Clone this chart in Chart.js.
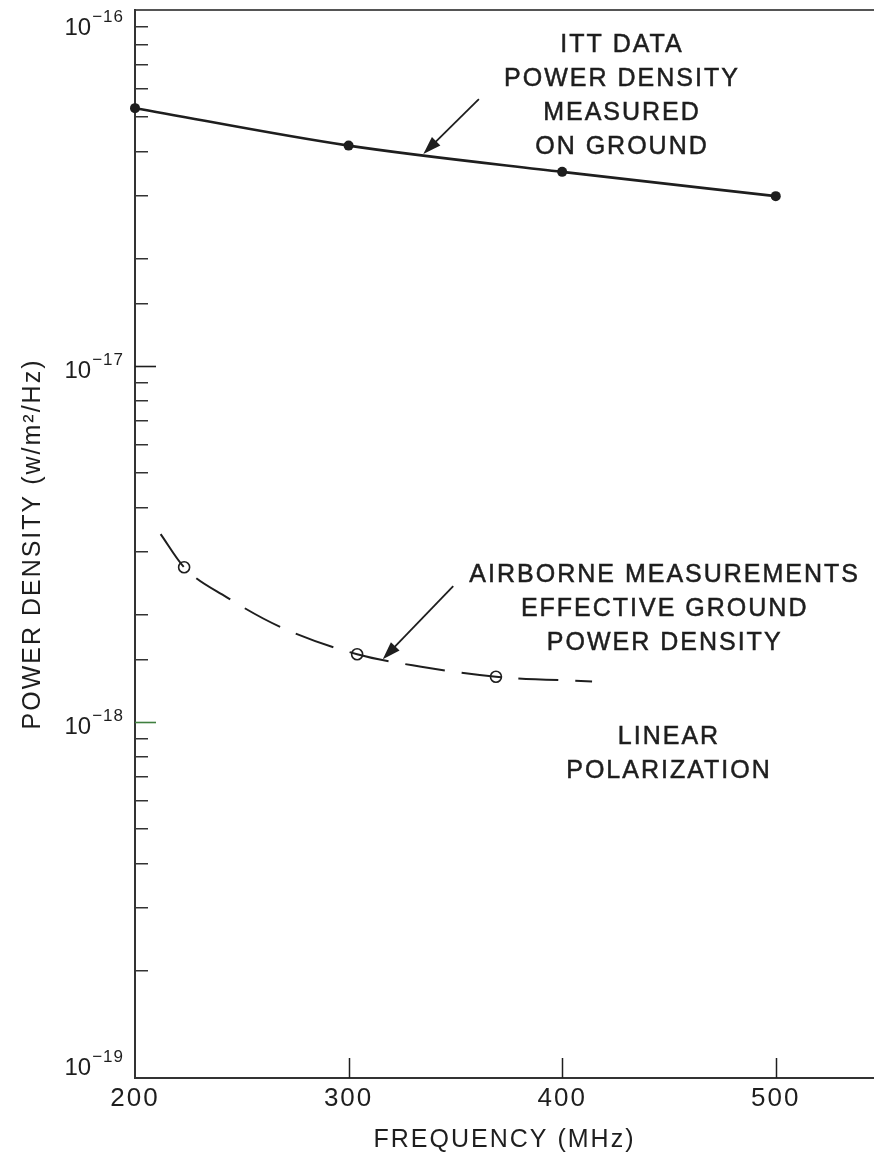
<!DOCTYPE html>
<html lang="en">
  <head>
    <meta charset="UTF-8" />
    <title>Power density vs frequency</title>
    <style>
      html, body { margin: 0; padding: 0; background: #fff; overflow: hidden; }
      #wrap { width: 874px; height: 1159px; }
      canvas { display: block; }
    </style>
  </head>
  <body>
    <div id="wrap"><canvas id="myChart" width="874" height="1159"></canvas></div>

    <script src="https://cdn.jsdelivr.net/npm/chart.js"></script>
    <script>
      // values
      const ittFreq = [200, 300, 400, 500];
      const ittDensity = [5.3e-17, 4.16e-17, 3.51e-17, 3.0e-17];

      const airFreq = [223, 304, 369];
      const airDensity = [2.72e-18, 1.55e-18, 1.34e-18];

      // the dashed fitted curve through the airborne points
      const airCurveFreq = [212, 223, 243, 268, 304, 334, 369, 414];
      const airCurveDensity = [3.37e-18, 2.72e-18, 2.24e-18, 1.85e-18, 1.55e-18, 1.43e-18, 1.34e-18, 1.3e-18];

      const xTicks = [200, 300, 400, 500];
      const yDecades = [-16, -17, -18, -19];

      const ittText = ["ITT DATA", "POWER DENSITY", "MEASURED", "ON GROUND"];
      const airText = ["AIRBORNE MEASUREMENTS", "EFFECTIVE GROUND", "POWER DENSITY"];
      const polText = ["LINEAR", "POLARIZATION"];

      const ink = "#1e1e1e";
      const FONT = "'Liberation Sans', Arial, sans-serif";
      Chart.defaults.font.family = FONT;
      Chart.defaults.color = ink;

      const pts = (xs, ys) => xs.map((x, i) => ({ x: x, y: ys[i] }));
      const isDecade = (v) => Math.abs(Math.log10(v) - Math.round(Math.log10(v))) < 1e-6;

      // notes and arrows, anchored in data coordinates
      const notes = [
        { lines: ittText, x: 428, y: 7.97e-17 },
        { lines: airText, x: 448, y: 2.59e-18 },
        { lines: polText, x: 450, y: 9.08e-19 },
      ];
      const arrows = [
        { from: [361, 5.62e-17], to: [335, 3.94e-17] },
        { from: [349, 2.41e-18], to: [316, 1.5e-18] },
      ];

      function drawArrow(ctx, x1, y1, x2, y2) {
        const a = Math.atan2(y2 - y1, x2 - x1);
        const len = 18, half = 6;
        ctx.beginPath();
        ctx.moveTo(x1, y1);
        ctx.lineTo(x2 - Math.cos(a) * len * 0.8, y2 - Math.sin(a) * len * 0.8);
        ctx.stroke();
        ctx.beginPath();
        ctx.moveTo(x2, y2);
        ctx.lineTo(x2 - Math.cos(a) * len - Math.sin(a) * half, y2 - Math.sin(a) * len + Math.cos(a) * half);
        ctx.lineTo(x2 - Math.cos(a) * len + Math.sin(a) * half, y2 - Math.sin(a) * len - Math.cos(a) * half);
        ctx.closePath();
        ctx.fill();
      }

      const spacing = {
        id: "spacing",
        beforeDraw(chart) {
          chart.ctx.letterSpacing = "2px";
        },
      };

      const extras = {
        id: "extras",
        afterDraw(chart) {
          const { ctx, scales, chartArea } = chart;
          const xs = scales.x, ys = scales.y;
          ctx.save();
          ctx.fillStyle = ink;
          ctx.strokeStyle = ink;

          // inward marks on the frequency axis
          ctx.lineWidth = 1.5;
          xTicks.forEach((v) => {
            if (v === xs.min) return;
            const px = Math.round(xs.getPixelForValue(v)) + 0.5;
            ctx.beginPath();
            ctx.moveTo(px, chartArea.bottom);
            ctx.lineTo(px, chartArea.bottom - 20);
            ctx.stroke();
          });

          // longer marks on the decades
          ctx.lineWidth = 1.6;
          yDecades.forEach((e) => {
            const py = Math.round(ys.getPixelForValue(Math.pow(10, e))) + 0.5;
            if (e === -16 || e === -19) return;
            ctx.strokeStyle = e === -18 ? "#3f7f3f" : ink;
            ctx.beginPath();
            ctx.moveTo(chartArea.left, py);
            ctx.lineTo(chartArea.left + 21, py);
            ctx.stroke();
          });
          ctx.strokeStyle = ink;

          // 10^n labels
          ctx.textAlign = "right";
          ctx.textBaseline = "alphabetic";
          const right = chartArea.left - 11;
          yDecades.forEach((e) => {
            const py = ys.getPixelForValue(Math.pow(10, e));
            const cy = Math.min(Math.max(py + 3, chartArea.top + 16), chartArea.bottom - 12);
            const exp = "\u2212" + String(-e);
            ctx.letterSpacing = "1px";
            ctx.font = "17px " + FONT;
            ctx.fillText(exp, right, cy - 4);
            const w = ctx.measureText(exp).width;
            ctx.letterSpacing = "0px";
            ctx.font = "24px " + FONT;
            ctx.fillText("10", right - w - 1, cy + 8.5);
          });

          // annotation text
          ctx.letterSpacing = "2px";
          ctx.textAlign = "center";
          ctx.textBaseline = "middle";
          ctx.font = "25px " + FONT;
          ctx.lineWidth = 0.5;
          notes.forEach((n) => {
            const px = xs.getPixelForValue(n.x);
            const py = ys.getPixelForValue(n.y);
            n.lines.forEach((t, i) => {
              ctx.fillText(t, px, py + i * 34);
              ctx.strokeText(t, px, py + i * 34);
            });
          });

          // arrows
          ctx.lineWidth = 1.8;
          arrows.forEach((a) => {
            drawArrow(
              ctx,
              xs.getPixelForValue(a.from[0]), ys.getPixelForValue(a.from[1]),
              xs.getPixelForValue(a.to[0]), ys.getPixelForValue(a.to[1])
            );
          });
          ctx.restore();
        },
      };

      new Chart(document.getElementById("myChart"), {
        type: "scatter",
        data: {
          datasets: [
            {
              label: "ITT data",
              data: pts(ittFreq, ittDensity),
              showLine: true,
              cubicInterpolationMode: "monotone",
              borderColor: ink,
              backgroundColor: ink,
              borderWidth: 2.6,
              pointRadius: 5,
              pointBorderWidth: 0,
              clip: false,
            },
            {
              label: "Airborne curve",
              data: pts(airCurveFreq, airCurveDensity),
              showLine: true,
              cubicInterpolationMode: "monotone",
              borderColor: ink,
              borderWidth: 2,
              borderDash: [40, 17],
              pointRadius: 0,
            },
            {
              label: "Airborne measurements",
              data: pts(airFreq, airDensity),
              showLine: false,
              borderColor: ink,
              backgroundColor: "#fff",
              pointRadius: 5.5,
              pointBorderWidth: 1.6,
            },
          ],
        },
        options: {
          responsive: false,
          animation: false,
          devicePixelRatio: 1,
          layout: { padding: 0, autoPadding: false },
          plugins: {
            legend: { display: false },
            tooltip: { enabled: false },
          },
          scales: {
            x: {
              type: "linear",
              position: "bottom",
              min: 200,
              max: 546,
              afterFit: (s) => {
                s.height = 81;
                s.paddingLeft = 0;
                s.paddingRight = 0;
              },
              border: { color: "#333", width: 2 },
              grid: { drawOnChartArea: false, drawTicks: false },
              ticks: {
                stepSize: 100,
                includeBounds: false,
                autoSkip: false,
                maxRotation: 0,
                padding: 5,
                color: ink,
                font: { size: 26 },
                callback: (v) => (xTicks.includes(v) ? String(v) : ""),
              },
              title: {
                display: true,
                text: "FREQUENCY (MHz)",
                color: ink,
                font: { size: 25 },
                padding: { top: 0, bottom: 4 },
              },
            },
            xTop: {
              type: "linear",
              position: "top",
              min: 200,
              max: 546,
              afterFit: (s) => {
                s.height = 10;
                s.paddingLeft = 0;
                s.paddingRight = 0;
              },
              border: { color: "#555", width: 2 },
              grid: { display: false },
              ticks: { display: false },
            },
            y: {
              type: "logarithmic",
              position: "left",
              min: 1e-19,
              max: 1e-16,
              afterFit: (s) => { s.width = 135; },
              border: { color: "#333", width: 2 },
              grid: {
                drawOnChartArea: false,
                tickLength: -13,
                lineWidth: 1.5,
                color: (c) => (c.tick && isDecade(c.tick.value) ? "rgba(0,0,0,0)" : "#333"),
              },
              ticks: { display: false, autoSkip: false },
              title: {
                display: true,
                text: "POWER DENSITY (w/m\u00b2/Hz)",
                color: ink,
                font: { size: 25 },
                padding: { top: 18, bottom: 0 },
              },
            },
          },
        },
        plugins: [spacing, extras],
      });
    </script>
  </body>
</html>
